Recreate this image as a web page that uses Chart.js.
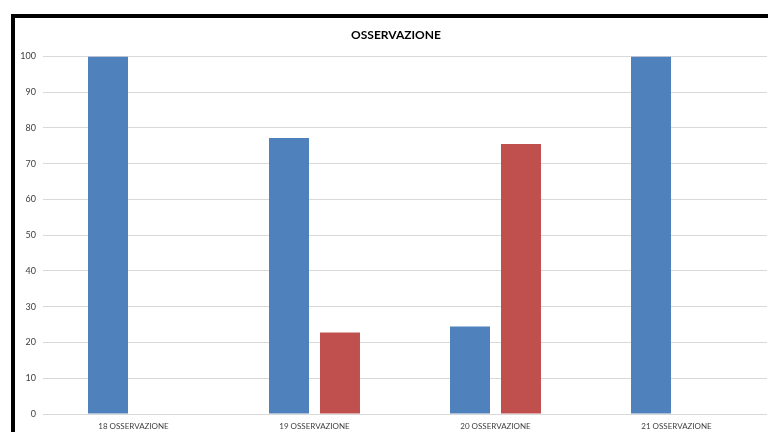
<!DOCTYPE html>
<html>
<head>
<meta charset="utf-8">
<script src="https://cdn.jsdelivr.net/npm/chart.js@4/dist/chart.umd.min.js"></script>
<style>
  html, body { margin: 0; padding: 0; background: #fff; overflow: hidden; width: 768px; height: 432px; }
  #frame { position: absolute; left: 11px; top: 14px; width: 764px; height: 440px; border: 4px solid #000; background: #fff; }
  #wrap { position: absolute; left: 0; top: 0; width: 764px; height: 414px; }
</style>
</head>
<body>
<div id="frame"><div id="wrap"><canvas id="c"></canvas></div></div>
<script>
const categories = ['18 OSSERVAZIONE', '19 OSSERVAZIONE', '20 OSSERVAZIONE', '21 OSSERVAZIONE'];
const seriesBlue = [100, 77.2, 24.5, 100];
const seriesRed = [0, 22.8, 75.5, 0];
const yTicks = [0, 10, 20, 30, 40, 50, 60, 70, 80, 90, 100];

const FONT = "Lato, 'Liberation Sans', sans-serif";

// Centre the title over the whole framed area rather than the padded box
const titleCentre = {
  id: 'titleCentre',
  afterLayout(chart) {
    if (chart.titleBlock) chart.titleBlock.left += 10;
  }
};

new Chart(document.getElementById('c'), {
  type: 'bar',
  data: {
    labels: categories,
    datasets: [
      { label: 'Serie 1', data: seriesBlue, backgroundColor: '#4F81BD', borderWidth: 0,
        categoryPercentage: 0.5635, barPercentage: 0.784 },
      { label: 'Serie 2', data: seriesRed, backgroundColor: '#C0504D', borderWidth: 0,
        categoryPercentage: 0.5635, barPercentage: 0.784 }
    ]
  },
  plugins: [titleCentre],
  options: {
    responsive: true,
    maintainAspectRatio: false,
    animation: false,
    layout: { padding: { left: 0, right: 12, top: 0, bottom: 0 } },
    plugins: {
      legend: { display: false },
      tooltip: { enabled: false },
      title: {
        display: true,
        text: 'OSSERVAZIONE',
        color: '#000',
        font: { family: FONT, size: 12, weight: 'bold' },
        padding: { top: 10, bottom: 14 }
      }
    },
    scales: {
      x: {
        grid: { display: false, drawTicks: false },
        border: { display: false },
        ticks: { color: '#404040', font: { family: FONT, size: 8 }, padding: 8, maxRotation: 0 },
        afterFit: (s) => { s.height = 18; }
      },
      y: {
        min: 0, max: 100,
        afterBuildTicks: (s) => { s.ticks = yTicks.map(v => ({ value: v })); },
        grid: { color: '#d9d9d9', lineWidth: 1, drawTicks: false },
        border: { display: false },
        ticks: { color: '#404040', font: { family: FONT, size: 9 }, padding: 7 },
        afterFit: (s) => { s.width = 28; }
      }
    }
  }
});
</script>
</body>
</html>
